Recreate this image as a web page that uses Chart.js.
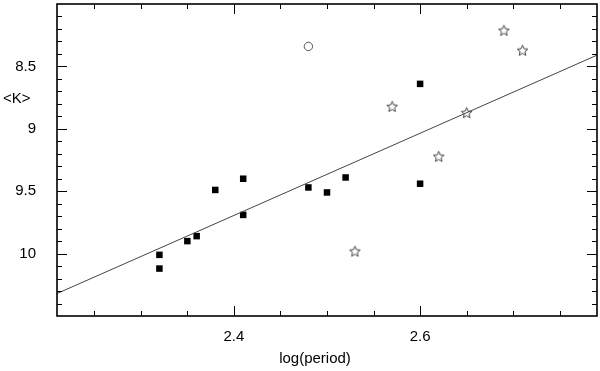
<!DOCTYPE html>
<html>
<head>
<meta charset="utf-8">
<script src="https://cdn.jsdelivr.net/npm/chart.js@4"></script>
<style>body{margin:0;background:#fff}</style>
</head>
<body>
<canvas id="c" width="600" height="371"></canvas>
<script>
// measured points: log(period) vs mean K magnitude
const squareX = [2.32, 2.32, 2.35, 2.36, 2.38, 2.41, 2.41, 2.48, 2.50, 2.52, 2.60, 2.60];
const squareK = [10.01, 10.12, 9.90, 9.86, 9.49, 9.40, 9.69, 9.47, 9.51, 9.39, 8.64, 9.44];
const starX = [2.53, 2.57, 2.62, 2.65, 2.69, 2.71];
const starK = [9.98, 8.82, 9.22, 8.87, 8.21, 8.37];
const circleX = [2.48];
const circleK = [8.34];
// fitted relation, drawn edge to edge
const fitX = [2.21, 2.79];
const fitK = [10.32, 8.41];

const xMajor = [2.4, 2.6];
const xMinor = [2.25, 2.3, 2.35, 2.45, 2.5, 2.55, 2.65, 2.7, 2.75];
const yMajor = [8.5, 9, 9.5, 10];
const yMinor = [8.1, 8.2, 8.3, 8.4, 8.6, 8.7, 8.8, 8.9, 9.1, 9.2, 9.3, 9.4,
                9.6, 9.7, 9.8, 9.9, 10.1, 10.2, 10.3, 10.4];

const FONT = "'Liberation Sans', Arial, sans-serif";

function pts(xs, ys) {
  return xs.map((x, i) => ({x: x, y: ys[i]}));
}

function starImage(r) {
  const c = document.createElement('canvas');
  const s = Math.ceil(r * 2 + 3);
  c.width = s; c.height = s;
  const g = c.getContext('2d');
  g.beginPath();
  for (let i = 0; i < 10; i++) {
    const rad = i % 2 ? r * 0.45 : r;
    const ang = -Math.PI / 2 + i * Math.PI / 5;
    g.lineTo(s / 2 + rad * Math.cos(ang), s / 2 + 0.6 + rad * Math.sin(ang));
  }
  g.closePath();
  g.strokeStyle = '#333';
  g.lineWidth = 0.9;
  g.stroke();
  return c;
}

const frame = {
  id: 'frame',
  afterDatasetsDraw(chart) {
    const {ctx, chartArea: a, scales: {x, y}} = chart;
    ctx.save();
    ctx.strokeStyle = '#000';
    ctx.lineWidth = 1;
    const xt = (list, len) => list.forEach(v => {
      const px = Math.round(x.getPixelForValue(v)) + 0.5;
      ctx.beginPath();
      ctx.moveTo(px, a.bottom); ctx.lineTo(px, a.bottom - len);
      ctx.moveTo(px, a.top); ctx.lineTo(px, a.top + len);
      ctx.stroke();
    });
    const yt = (list, len) => list.forEach(v => {
      const py = Math.round(y.getPixelForValue(v)) + 0.5;
      ctx.beginPath();
      ctx.moveTo(a.left, py); ctx.lineTo(a.left + len, py);
      ctx.moveTo(a.right, py); ctx.lineTo(a.right - len, py);
      ctx.stroke();
    });
    xt(xMajor, 10); xt(xMinor, 5);
    yt(yMajor, 10); yt(yMinor, 5);
    ctx.lineWidth = 1.6;
    ctx.strokeRect(a.left, a.top, a.right - a.left, a.bottom - a.top);

    ctx.fillStyle = '#000';
    ctx.font = '15px ' + FONT;
    ctx.textBaseline = 'middle';
    ctx.textAlign = 'left';
    ctx.fillText('<K>', 3, 99);
    ctx.textAlign = 'center';
    ctx.fillText('log(period)', 315, 359);
    ctx.restore();
  }
};

new Chart(document.getElementById('c'), {
  type: 'scatter',
  data: {
    datasets: [
      {
        data: pts(fitX, fitK),
        showLine: true,
        pointRadius: 0,
        borderColor: '#444',
        borderWidth: 1
      },
      {
        data: pts(squareX, squareK),
        pointStyle: 'rect',
        pointRadius: 4.6,
        backgroundColor: '#000',
        borderColor: '#000',
        borderWidth: 0
      },
      {
        data: pts(starX, starK),
        pointStyle: starImage(5.6),
        pointRadius: 6
      },
      {
        data: pts(circleX, circleK),
        pointStyle: 'circle',
        pointRadius: 4.2,
        backgroundColor: 'rgba(0,0,0,0)',
        borderColor: '#444',
        borderWidth: 0.9
      }
    ]
  },
  options: {
    responsive: false,
    animation: false,
    layout: {autoPadding: false, padding: {top: 4, right: 3, left: 0, bottom: 0}},
    plugins: {legend: {display: false}, tooltip: {enabled: false}},
    scales: {
      x: {
        type: 'linear',
        min: 2.21,
        max: 2.79,
        afterBuildTicks: s => { s.ticks = xMajor.map(v => ({value: v})); },
        afterFit: s => { s.height = 55; s.paddingLeft = 0; s.paddingRight = 0; },
        grid: {display: false},
        border: {display: false},
        ticks: {
          font: {family: FONT, size: 15},
          color: '#000',
          padding: 4,
          maxRotation: 0,
          autoSkip: false,
          callback: v => String(v)
        }
      },
      y: {
        reverse: true,
        min: 8.0,
        max: 10.5,
        afterBuildTicks: s => { s.ticks = yMajor.map(v => ({value: v})); },
        afterFit: s => { s.width = 57; s.paddingTop = 0; s.paddingBottom = 0; },
        grid: {display: false},
        border: {display: false},
        ticks: {
          font: {family: FONT, size: 15},
          color: '#000',
          padding: 13,
          autoSkip: false,
          callback: v => String(v)
        }
      }
    }
  },
  plugins: [frame]
});
</script>
</body>
</html>
